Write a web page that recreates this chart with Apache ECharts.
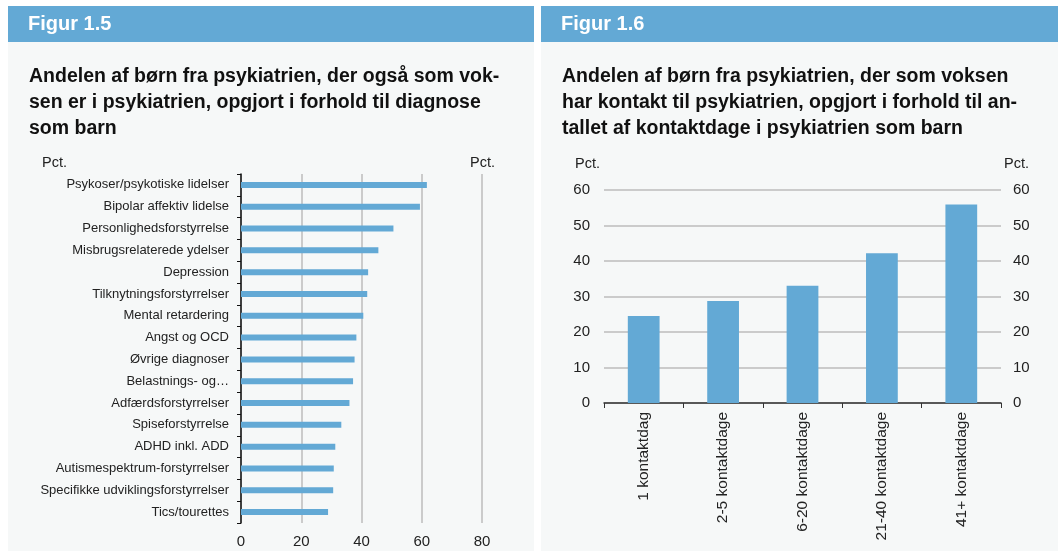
<!DOCTYPE html>
<html>
<head>
<meta charset="utf-8">
<script src="https://cdn.jsdelivr.net/npm/echarts@6/dist/echarts.min.js"></script>
<style>
  html, body { margin: 0; padding: 0; background: #fff; }
  #chart { width: 1058px; height: 551px; }
</style>
</head>
<body>
<div id="chart"></div>
<script>
// Figur 1.5 - diagnose som barn
const diagnoser = [
  'Psykoser/psykotiske lidelser', 'Bipolar affektiv lidelse', 'Personlighedsforstyrrelse',
  'Misbrugsrelaterede ydelser', 'Depression', 'Tilknytningsforstyrrelser', 'Mental retardering',
  'Angst og OCD', 'Øvrige diagnoser', 'Belastnings- og…', 'Adfærdsforstyrrelser',
  'Spiseforstyrrelse', 'ADHD inkl. ADD', 'Autismespektrum-forstyrrelser',
  'Specifikke udviklingsforstyrrelser', 'Tics/tourettes'
];
const diagnoseVaerdier = [61.7, 59.4, 50.6, 45.6, 42.2, 41.9, 40.6, 38.3, 37.7, 37.2, 36.0, 33.3, 31.3, 30.8, 30.6, 28.9];
const xTicks15 = [0, 20, 40, 60, 80];

// Figur 1.6 - kontaktdage som barn
const kontaktdage = ['1 kontaktdag', '2-5 kontaktdage', '6-20 kontaktdage', '21-40 kontaktdage', '41+ kontaktdage'];
const kontaktVaerdier = [24.5, 28.7, 33.0, 42.2, 55.9];
const yTicks16 = [0, 10, 20, 30, 40, 50, 60];

const FONT = "'Liberation Sans', Arial, Helvetica, sans-serif";
const BLUE = '#63a9d5';
const PANEL = '#f6f8f8';
const TXT = '#222';

const chart = echarts.init(document.getElementById('chart'));

const option = {
  backgroundColor: '#fff',
  animation: false,
  textStyle: { fontFamily: FONT },
  graphic: [
    { type: 'rect', z: -10, shape: { x: 8, y: 6, width: 526, height: 545 }, style: { fill: PANEL } },
    { type: 'rect', z: -9, shape: { x: 8, y: 6, width: 526, height: 36 }, style: { fill: BLUE } },
    { type: 'rect', z: -10, shape: { x: 541, y: 6, width: 517, height: 545 }, style: { fill: PANEL } },
    { type: 'rect', z: -9, shape: { x: 541, y: 6, width: 517, height: 36 }, style: { fill: BLUE } },
    { type: 'text', left: 42, top: 155, style: { text: 'Pct.', font: '14.5px ' + FONT, fill: TXT } },
    { type: 'text', left: 470, top: 155, style: { text: 'Pct.', font: '14.5px ' + FONT, fill: TXT } },
    { type: 'text', left: 575, top: 156, style: { text: 'Pct.', font: '14.5px ' + FONT, fill: TXT } },
    { type: 'text', left: 1004, top: 156, style: { text: 'Pct.', font: '14.5px ' + FONT, fill: TXT } }
  ],
  title: [
    { text: 'Figur 1.5', left: 28, top: 14, padding: 0,
      textStyle: { color: '#fff', fontSize: 20, fontWeight: 'bold', fontFamily: FONT } },
    { text: 'Andelen af børn fra psykiatrien, der også som vok-\nsen er i psykiatrien, opgjort i forhold til diagnose\nsom barn',
      left: 29, top: 64, padding: 0,
      textStyle: { color: '#111', fontSize: 19.5, fontWeight: 'bold', lineHeight: 26, fontFamily: FONT } },
    { text: 'Figur 1.6', left: 561, top: 14, padding: 0,
      textStyle: { color: '#fff', fontSize: 20, fontWeight: 'bold', fontFamily: FONT } },
    { text: 'Andelen af børn fra psykiatrien, der som voksen\nhar kontakt til psykiatrien, opgjort i forhold til an-\ntallet af kontaktdage i psykiatrien som barn',
      left: 562, top: 64, padding: 0,
      textStyle: { color: '#111', fontSize: 19.5, fontWeight: 'bold', lineHeight: 26, fontFamily: FONT } }
  ],
  grid: [
    { left: 241, right: 576, top: 174, bottom: 28, containLabel: false },
    { left: 604, right: 57, top: 190, bottom: 148, containLabel: false }
  ],
  xAxis: [
    {
      gridIndex: 0, type: 'value', min: xTicks15[0], max: xTicks15[xTicks15.length - 1], interval: 20,
      axisLine: { show: false }, axisTick: { show: false },
      axisLabel: { color: TXT, fontSize: 15, margin: 11 },
      splitLine: { lineStyle: { color: '#bdbdbd', width: 1.5 } }
    },
    {
      gridIndex: 1, type: 'category', data: kontaktdage,
      axisLine: { lineStyle: { color: '#333', width: 1.5 } },
      axisTick: { show: true, length: 5, lineStyle: { color: '#333' } },
      axisLabel: { color: TXT, fontSize: 15.5, rotate: 90, margin: 9, interval: 0 }
    }
  ],
  yAxis: [
    {
      gridIndex: 0, type: 'category', data: diagnoser, inverse: true,
      axisLine: { lineStyle: { color: '#111', width: 1.5 } },
      axisTick: { show: true, length: 4, lineStyle: { color: '#111' } },
      axisLabel: { color: TXT, fontSize: 13, margin: 12, interval: 0 },
      splitLine: { show: false }
    },
    {
      gridIndex: 1, type: 'value', min: yTicks16[0], max: yTicks16[yTicks16.length - 1], interval: 10,
      axisLine: { show: false }, axisTick: { show: false },
      axisLabel: { color: TXT, fontSize: 15, margin: 14 },
      splitLine: { lineStyle: { color: '#bdbdbd', width: 1.5 } }
    },
    {
      gridIndex: 1, type: 'value', position: 'right', min: yTicks16[0], max: yTicks16[yTicks16.length - 1], interval: 10,
      axisLine: { show: false }, axisTick: { show: false },
      axisLabel: { color: TXT, fontSize: 15, margin: 12 },
      splitLine: { show: false }
    }
  ],
  series: [
    {
      type: 'bar', xAxisIndex: 0, yAxisIndex: 0, data: diagnoseVaerdier,
      barWidth: 6, itemStyle: { color: BLUE }
    },
    {
      type: 'bar', xAxisIndex: 1, yAxisIndex: 1, data: kontaktVaerdier,
      barWidth: '40%', itemStyle: { color: BLUE }
    }
  ]
};

chart.setOption(option);
</script>
</body>
</html>
